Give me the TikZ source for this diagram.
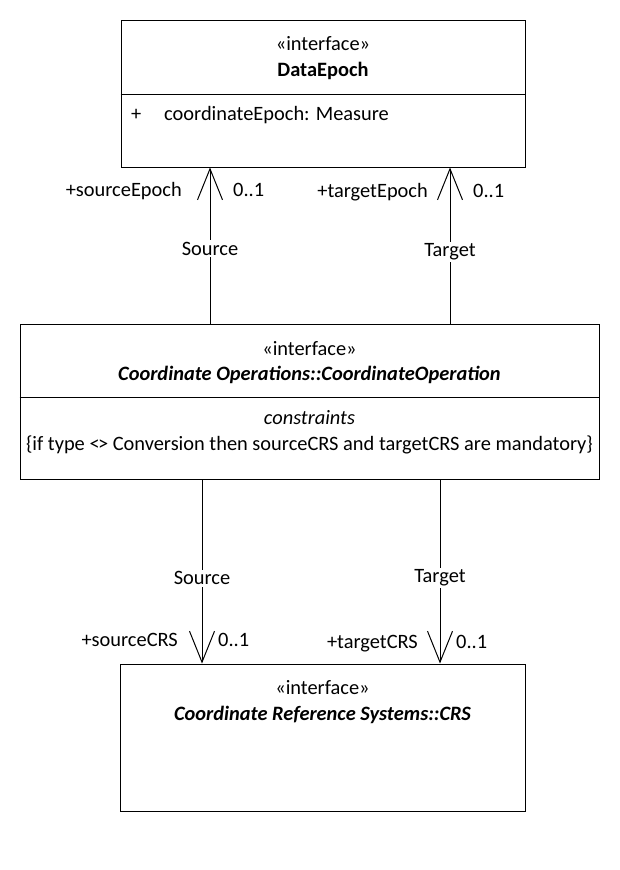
\documentclass[tikz,border=0pt]{standalone}
\usepackage{fontspec}
\setmainfont{Carlito}
\usetikzlibrary{arrows.meta}
\begin{document}
\begin{tikzpicture}[x=1pt,y=-1pt,
  every node/.style={font=\fontsize{20.4}{24}\selectfont, inner sep=0pt},
  txt/.style={anchor=base},
  umlbox/.style={draw, line width=1pt, rectangle, inner sep=0pt},
  divline/.style={line width=1pt},
  assoc/.style={line width=1pt, -{Straight Barb[length=31pt,width=25pt,line width=1pt]}},
  seglabel/.style={fill=white, inner sep=2pt, anchor=base}]
\useasboundingbox (0,0) rectangle (620,870);
% boxes
\node[umlbox, minimum width=404pt, minimum height=147pt] (de) at (323,93.5) {};
\node[umlbox, minimum width=579pt, minimum height=155pt] (co) at (309.5,401.5) {};
\node[umlbox, minimum width=405pt, minimum height=147pt] (crs) at (322.5,737.5) {};
% dividers
\coordinate (deL) at (de.west |- 0,94);
\coordinate (deR) at (de.east |- 0,94);
\draw[divline] (deL) -- (deR);
\coordinate (coL) at (co.west |- 0,397);
\coordinate (coR) at (co.east |- 0,397);
\draw[divline] (coL) -- (coR);
% texts DataEpoch
\node[txt] (de1) at (323,50.7) {«interface»};
\node[txt] (de2) at (323,76) {\bfseries DataEpoch};
\node[txt, anchor=base west] (de3) at (131,120.7) {+};
\node[txt, anchor=base west] (de4) at (164,120.7) {coordinateEpoch: Measure};
% texts CoordinateOperation
\node[txt] (co1) at (309.5,355) {«interface»};
\node[txt] (co2) at (309.5,380) {\bfseries\itshape Coordinate Operations::CoordinateOperation};
\node[txt] (co3) at (309.5,424.3) {\itshape constraints};
\node[txt] (co4) at (309.5,450) {\{if type <\kern-0.08em> Conversion then sourceCRS and targetCRS are mandatory\}};
% texts CRS
\node[txt] (crs1) at (322.5,694) {«interface»};
\node[txt] (crs2) at (322.5,720) {\bfseries\itshape Coordinate Reference Systems::CRS};
% connectors
\coordinate (a1s) at (co.north -| 210,0);
\coordinate (a1t) at (de.south -| 210,0);
\coordinate (a2s) at (co.north -| 450,0);
\coordinate (a2t) at (de.south -| 450,0);
\coordinate (b1s) at (co.south -| 202,0);
\coordinate (b1t) at (crs.north -| 202,0);
\coordinate (b2s) at (co.south -| 440,0);
\coordinate (b2t) at (crs.north -| 440,0);
\draw[assoc] (a1s) -- node[seglabel, pos=0.439] (l1) {Source} (a1t);
\draw[assoc] (a2s) -- node[seglabel, pos=0.428] (l2) {Target} (a2t);
\draw[assoc] (b1s) -- node[seglabel, pos=0.573] (l3) {Source} (b1t);
\draw[assoc] (b2s) -- node[seglabel, pos=0.562] (l4) {Target} (b2t);
% role labels
\node[anchor=base east] (r1) at (182,196.7) {+sourceEpoch};
\node[anchor=base west] (m1) at (233,196.7) {0..1};
\node[anchor=base east] (r2) at (428,197) {+targetEpoch};
\node[anchor=base west] (m2) at (473,197) {0..1};
\node[anchor=base east] (r3) at (178,646.7) {+sourceCRS};
\node[anchor=base west] (m3) at (218,646.7) {0..1};
\node[anchor=base east] (r4) at (418,648) {+targetCRS};
\node[anchor=base west] (m4) at (456,648) {0..1};
\end{tikzpicture}
\end{document}
